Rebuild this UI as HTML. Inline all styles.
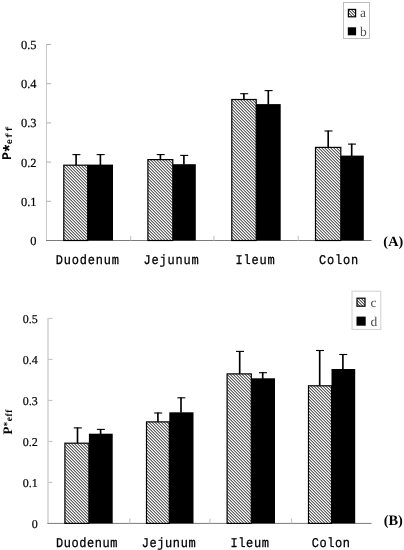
<!DOCTYPE html>
<html><head><meta charset="utf-8"><title>Figure</title>
<style>
html,body{margin:0;padding:0;background:#fff;}
body{width:404px;height:550px;overflow:hidden;position:relative;font-family:"Liberation Serif",serif;}
svg{position:absolute;left:0;top:0;display:block;}
text{text-rendering:geometricPrecision;}
.tick{font-family:"Liberation Serif",serif;font-size:12.6px;fill:#000;stroke:#000;stroke-width:0.2px;}
.cat{font-family:"Liberation Mono",monospace;font-size:12px;fill:#000;stroke:#000;stroke-width:0.25px;letter-spacing:0.8px;}
.catb{letter-spacing:0.56px;}
.pl{font-family:"Liberation Serif",serif;font-weight:bold;font-size:13.5px;fill:#000;letter-spacing:0.6px;}
.lg{font-family:"Liberation Serif",serif;font-size:13.5px;fill:#505050;}
</style></head><body>
<svg width="404" height="550" viewBox="0 0 404 550">
<defs>
<pattern id="h" patternUnits="userSpaceOnUse" width="3" height="3" shape-rendering="crispEdges"><rect width="3" height="3" fill="#fff"/><rect x="0" y="0" width="1" height="1" fill="#606060"/><rect x="2" y="0" width="1" height="1" fill="#b0b0b0"/><rect x="1" y="1" width="1" height="1" fill="#606060"/><rect x="0" y="1" width="1" height="1" fill="#b0b0b0"/><rect x="2" y="2" width="1" height="1" fill="#606060"/><rect x="1" y="2" width="1" height="1" fill="#b0b0b0"/></pattern>
</defs>
<path d="M46.50,44.00 V240.50" stroke="#cacaca" stroke-width="1.0" fill="none"/>
<text class="tick" style="font-size:12.4px" x="36.5" y="245.00" text-anchor="end">0</text>
<path d="M46.50,201.30 H51.00" stroke="#b0b0b0" stroke-width="1" fill="none"/>
<text class="tick" style="font-size:12.4px" x="36.5" y="205.80" text-anchor="end">0.1</text>
<path d="M46.50,162.10 H51.00" stroke="#b0b0b0" stroke-width="1" fill="none"/>
<text class="tick" style="font-size:12.4px" x="36.5" y="166.60" text-anchor="end">0.2</text>
<path d="M46.50,122.90 H51.00" stroke="#b0b0b0" stroke-width="1" fill="none"/>
<text class="tick" style="font-size:12.4px" x="36.5" y="127.40" text-anchor="end">0.3</text>
<path d="M46.50,83.70 H51.00" stroke="#b0b0b0" stroke-width="1" fill="none"/>
<text class="tick" style="font-size:12.4px" x="36.5" y="88.20" text-anchor="end">0.4</text>
<path d="M46.50,44.50 H51.00" stroke="#b0b0b0" stroke-width="1" fill="none"/>
<text class="tick" style="font-size:12.4px" x="36.5" y="49.00" text-anchor="end">0.5</text>
<path d="M46.00,240.50 H371.50" stroke="#7a7a7a" stroke-width="1" fill="none"/>
<path d="M130.60,240.50 V235.70" stroke="#c4c4c4" stroke-width="1.1" fill="none"/>
<path d="M213.90,240.50 V235.70" stroke="#c4c4c4" stroke-width="1.1" fill="none"/>
<path d="M298.30,240.50 V235.70" stroke="#c4c4c4" stroke-width="1.1" fill="none"/>
<rect x="63.80" y="165.20" width="23.90" height="75.30" fill="url(#h)" stroke="#000" stroke-width="1.2"/>
<rect x="87.70" y="164.60" width="25.30" height="75.90" fill="#000"/>
<path d="M76.10,165.10 V154.20" stroke="#000" stroke-width="1.65" fill="none"/>
<path d="M72.40,154.60 H80.40" stroke="#000" stroke-width="1.1" fill="none"/>
<path d="M100.40,165.10 V154.20" stroke="#000" stroke-width="1.65" fill="none"/>
<path d="M96.70,154.60 H104.70" stroke="#000" stroke-width="1.1" fill="none"/>
<rect x="147.90" y="159.60" width="24.90" height="80.90" fill="url(#h)" stroke="#000" stroke-width="1.2"/>
<rect x="172.80" y="164.20" width="23.00" height="76.30" fill="#000"/>
<path d="M160.40,159.50 V154.20" stroke="#000" stroke-width="1.65" fill="none"/>
<path d="M156.70,154.60 H164.70" stroke="#000" stroke-width="1.1" fill="none"/>
<path d="M183.90,164.70 V155.00" stroke="#000" stroke-width="1.65" fill="none"/>
<path d="M180.20,155.40 H188.20" stroke="#000" stroke-width="1.1" fill="none"/>
<rect x="231.80" y="99.50" width="24.40" height="141.00" fill="url(#h)" stroke="#000" stroke-width="1.2"/>
<rect x="256.20" y="104.10" width="24.50" height="136.40" fill="#000"/>
<path d="M243.90,99.40 V93.30" stroke="#000" stroke-width="1.65" fill="none"/>
<path d="M240.20,93.70 H248.20" stroke="#000" stroke-width="1.1" fill="none"/>
<path d="M268.30,104.60 V90.20" stroke="#000" stroke-width="1.65" fill="none"/>
<path d="M264.60,90.60 H272.60" stroke="#000" stroke-width="1.1" fill="none"/>
<rect x="315.50" y="147.40" width="25.30" height="93.10" fill="url(#h)" stroke="#000" stroke-width="1.2"/>
<rect x="340.80" y="155.60" width="23.00" height="84.90" fill="#000"/>
<path d="M328.20,147.30 V130.60" stroke="#000" stroke-width="1.65" fill="none"/>
<path d="M324.50,131.00 H332.50" stroke="#000" stroke-width="1.1" fill="none"/>
<path d="M351.70,156.10 V143.70" stroke="#000" stroke-width="1.65" fill="none"/>
<path d="M348.00,144.10 H356.00" stroke="#000" stroke-width="1.1" fill="none"/>
<text class="cat" transform="translate(87.70,264.4) scale(1,1.12)" x="0" y="0" text-anchor="middle">Duodenum</text>
<text class="cat" transform="translate(171.60,264.4) scale(1,1.12)" x="0" y="0" text-anchor="middle">Jejunum</text>
<text class="cat" transform="translate(255.50,264.4) scale(1,1.12)" x="0" y="0" text-anchor="middle">Ileum</text>
<text class="cat" transform="translate(339.10,264.4) scale(1,1.12)" x="0" y="0" text-anchor="middle">Colon</text>
<text class="pl" style="font-size:14.2px;letter-spacing:0.2px" x="393.4" y="246.4" text-anchor="middle">(A)</text>
<rect x="343.5" y="2.5" width="26" height="36" fill="#fff" stroke="#b8b8b8" stroke-width="0.9"/>
<rect x="348.4" y="9.4" width="7.2" height="7.4" fill="url(#h)" stroke="#000" stroke-width="1.2"/>
<rect x="347.8" y="27.3" width="8.3" height="8" fill="#000"/>
<text class="lg" x="360" y="17.3">a</text>
<text class="lg" x="360" y="35.6">b</text>
<text transform="translate(11.1,159.2) rotate(-90)" font-family="Liberation Mono,monospace" font-weight="bold" fill="#000"><tspan x="-0.9" y="0" font-size="13.3px">P</tspan><tspan x="5.6" y="5" font-size="18px">*</tspan><tspan x="15 21.1 27.7" y="0.8" font-size="8.8px">eff</tspan></text>
<path d="M48.00,317.90 V523.40" stroke="#cecece" stroke-width="1.4" fill="none"/>
<text class="tick" style="font-size:12.0px" x="37.7" y="527.70" text-anchor="end">0</text>
<path d="M48.00,482.40 H52.50" stroke="#c0c0c0" stroke-width="1" fill="none"/>
<text class="tick" style="font-size:12.0px" x="37.7" y="486.70" text-anchor="end">0.1</text>
<path d="M48.00,441.40 H52.50" stroke="#c0c0c0" stroke-width="1" fill="none"/>
<text class="tick" style="font-size:12.0px" x="37.7" y="445.70" text-anchor="end">0.2</text>
<path d="M48.00,400.40 H52.50" stroke="#c0c0c0" stroke-width="1" fill="none"/>
<text class="tick" style="font-size:12.0px" x="37.7" y="404.70" text-anchor="end">0.3</text>
<path d="M48.00,359.40 H52.50" stroke="#c0c0c0" stroke-width="1" fill="none"/>
<text class="tick" style="font-size:12.0px" x="37.7" y="363.70" text-anchor="end">0.4</text>
<path d="M48.00,318.40 H52.50" stroke="#c0c0c0" stroke-width="1" fill="none"/>
<text class="tick" style="font-size:12.0px" x="37.7" y="322.70" text-anchor="end">0.5</text>
<path d="M47.30,523.40 H371.50" stroke="#7a7a7a" stroke-width="1" fill="none"/>
<path d="M129.80,523.40 V518.60" stroke="#c4c4c4" stroke-width="1.1" fill="none"/>
<path d="M210.00,523.40 V518.60" stroke="#c4c4c4" stroke-width="1.1" fill="none"/>
<path d="M291.50,523.40 V518.60" stroke="#c4c4c4" stroke-width="1.1" fill="none"/>
<rect x="64.90" y="443.20" width="24.00" height="80.20" fill="url(#h)" stroke="#000" stroke-width="1.2"/>
<rect x="88.90" y="433.70" width="23.80" height="89.70" fill="#000"/>
<path d="M77.50,443.10 V427.50" stroke="#000" stroke-width="1.65" fill="none"/>
<path d="M73.80,427.90 H81.80" stroke="#000" stroke-width="1.1" fill="none"/>
<path d="M100.60,434.20 V429.00" stroke="#000" stroke-width="1.65" fill="none"/>
<path d="M96.90,429.40 H104.90" stroke="#000" stroke-width="1.1" fill="none"/>
<rect x="146.50" y="421.90" width="22.80" height="101.50" fill="url(#h)" stroke="#000" stroke-width="1.2"/>
<rect x="169.30" y="412.30" width="24.20" height="111.10" fill="#000"/>
<path d="M157.90,421.80 V412.60" stroke="#000" stroke-width="1.65" fill="none"/>
<path d="M154.20,413.00 H162.20" stroke="#000" stroke-width="1.1" fill="none"/>
<path d="M181.00,412.80 V397.40" stroke="#000" stroke-width="1.65" fill="none"/>
<path d="M177.30,397.80 H185.30" stroke="#000" stroke-width="1.1" fill="none"/>
<rect x="227.10" y="373.90" width="24.20" height="149.50" fill="url(#h)" stroke="#000" stroke-width="1.2"/>
<rect x="251.30" y="378.30" width="23.70" height="145.10" fill="#000"/>
<path d="M239.70,373.80 V351.00" stroke="#000" stroke-width="1.65" fill="none"/>
<path d="M236.00,351.40 H244.00" stroke="#000" stroke-width="1.1" fill="none"/>
<path d="M262.70,378.80 V372.30" stroke="#000" stroke-width="1.65" fill="none"/>
<path d="M259.00,372.70 H267.00" stroke="#000" stroke-width="1.1" fill="none"/>
<rect x="308.50" y="385.80" width="23.00" height="137.60" fill="url(#h)" stroke="#000" stroke-width="1.2"/>
<rect x="331.50" y="369.00" width="23.70" height="154.40" fill="#000"/>
<path d="M319.70,385.70 V350.10" stroke="#000" stroke-width="1.65" fill="none"/>
<path d="M316.00,350.50 H324.00" stroke="#000" stroke-width="1.1" fill="none"/>
<path d="M342.90,369.50 V354.10" stroke="#000" stroke-width="1.65" fill="none"/>
<path d="M339.20,354.50 H347.20" stroke="#000" stroke-width="1.1" fill="none"/>
<text class="cat catb" transform="translate(87.00,546.5) scale(1,1.12)" x="0" y="0" text-anchor="middle">Duodenum</text>
<text class="cat catb" transform="translate(169.00,546.5) scale(1,1.12)" x="0" y="0" text-anchor="middle">Jejunum</text>
<text class="cat catb" transform="translate(250.00,546.5) scale(1,1.12)" x="0" y="0" text-anchor="middle">Ileum</text>
<text class="cat catb" transform="translate(331.20,546.5) scale(1,1.12)" x="0" y="0" text-anchor="middle">Colon</text>
<text class="pl" style="font-size:14.4px;letter-spacing:0" x="393.3" y="524.5" text-anchor="middle">(B)</text>
<rect x="352" y="291.2" width="28.8" height="38.2" fill="#fff" stroke="#cfcfcf" stroke-width="1"/>
<rect x="357.0" y="298.2" width="8.0" height="8.0" fill="url(#h)" stroke="#000" stroke-width="1.2"/>
<rect x="356.5" y="316.6" width="9.2" height="9.1" fill="#000"/>
<text class="lg" x="370.4" y="307.1">c</text>
<text class="lg" x="370.4" y="326">d</text>
<text transform="translate(11.9,434.3) rotate(-90)" font-family="Liberation Serif,serif" font-weight="bold" fill="#000"><tspan x="-0.3" y="0" font-size="13px">P</tspan><tspan x="7.9" y="-1.7" font-size="9.5px">*</tspan><tspan x="13.1" y="0.4" font-size="9.5px" letter-spacing="0.5">eff</tspan></text>
</svg>
</body></html>
